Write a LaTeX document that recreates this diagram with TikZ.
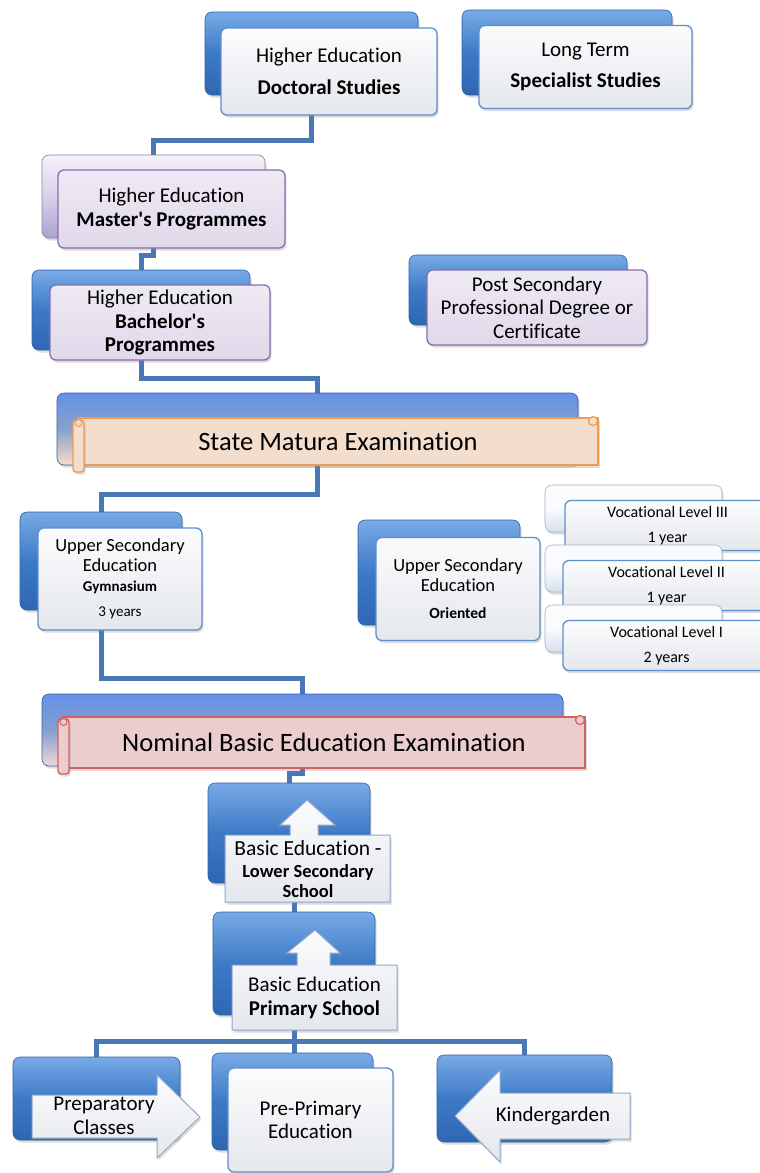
\documentclass[tikz,border=0pt]{standalone}
\usepackage{fontspec}
\setmainfont{Carlito}[Ligatures={NoCommon,TeXOff}]
\usetikzlibrary{shadows,backgrounds,calc}
\definecolor{conncol}{HTML}{4A78B4}
\definecolor{bktop}{HTML}{78AAE6}
\definecolor{bkmid}{HTML}{3D7AC6}
\definecolor{bkbot}{HTML}{2E66B2}
\definecolor{bkedge}{HTML}{2F62A6}
\definecolor{frtop}{HTML}{FBFCFD}
\definecolor{frbot}{HTML}{E4E7EC}
\definecolor{fredge}{HTML}{5F8FCB}
\definecolor{putop}{HTML}{EEEAF3}
\definecolor{pubot}{HTML}{E0D9EA}
\definecolor{puedge}{HTML}{8A6CB0}
\definecolor{lavtop}{HTML}{F5F2F9}
\definecolor{lavbot}{HTML}{A9A2D2}
\definecolor{vtop}{HTML}{FAFBFD}
\definecolor{vbot}{HTML}{D5E0EE}
\definecolor{orfill}{HTML}{F3DDCD}
\definecolor{oredge}{HTML}{F39A4F}
\definecolor{rdfill}{HTML}{EBCDCD}
\definecolor{rdedge}{HTML}{CF6262}
\definecolor{peach}{HTML}{F6DDCB}
\definecolor{pinkb}{HTML}{F1D6D6}
\definecolor{aredge}{HTML}{8FA8CC}
\tikzset{
  shad/.style={drop shadow={opacity=0.28,shadow xshift=1.5pt,shadow yshift=-2.5pt}},
  backbox/.style={rounded corners=7pt, draw=bkedge, line width=0.6pt,
    top color=bktop, bottom color=bkbot, middle color=bkmid, inner sep=0pt, shad},
  lavback/.style={backbox, draw=lavbot!80!black, top color=lavtop, bottom color=lavbot, middle color=lavtop!60!lavbot},
  vback/.style={backbox, draw=vbot!80!black, top color=vtop, bottom color=vbot, middle color=vtop},
  orback/.style={backbox, top color=bktop!85!blue, bottom color=peach, middle color=bkmid!60!peach},
  rdback/.style={backbox, top color=bktop!85!blue, bottom color=pinkb, middle color=bkmid!60!pinkb},
  frontbox/.style={rounded corners=6pt, draw=fredge, line width=1.3pt,
    top color=frtop, bottom color=frbot, inner sep=2pt, align=center, shad},
  pufront/.style={frontbox, draw=puedge, top color=putop, bottom color=pubot},
  scroll/.style={draw=#1, line width=1.4pt, inner sep=0pt, shad},
  arrowshape/.style={draw=aredge, line width=1pt, top color=frtop, bottom color=frbot, shad},
  lbl/.style={align=center, inner sep=0pt},
  conn/.style={draw=conncol, line width=5pt},
  big/.style={font=\fontsize{21}{23.5}\selectfont},
  mid/.style={font=\fontsize{18.5}{20}\selectfont},
}
\begin{document}
\begin{tikzpicture}[x=1pt,y=-1pt]
\useasboundingbox (0,0) rectangle (760,1173);

% ---- Doctoral / Long term
\node[backbox, minimum width=213pt, minimum height=83pt] (docb) at (311.5,53.5) {};
\node[frontbox, big, minimum width=216pt, minimum height=87pt] (doc) at (329,71.5)
  {Higher Education\\[8pt]\textbf{Doctoral Studies}};
\node[backbox, minimum width=210pt, minimum height=85pt] (ltb) at (567,52.5) {};
\node[frontbox, big, minimum width=213pt, minimum height=83pt] (lt) at (585.5,67)
  {Long Term\\[8pt]\textbf{Specialist Studies}};

% ---- Master's
\node[lavback, minimum width=223pt, minimum height=83pt] (masb) at (153.5,196.5) {};
\node[pufront, big, minimum width=227pt, minimum height=78pt] (mas) at (171.5,209)
  {Higher Education\\\textbf{Master's Programmes}};

% ---- Bachelor's
\node[backbox, minimum width=218pt, minimum height=80pt] (bacb) at (141,310) {};
\node[pufront, big, minimum width=220pt, minimum height=75pt] (bac) at (160,322.5)
  {Higher Education\\\textbf{Bachelor's}\\\textbf{Programmes}};

% ---- Post secondary
\node[backbox, minimum width=218pt, minimum height=70pt] (posb) at (518,290) {};
\node[pufront, big, minimum width=220pt, minimum height=75pt] (pos) at (537,307.5)
  {Post Secondary\\Professional Degree or\\Certificate};

% ---- State Matura
\node[orback, minimum width=521pt, minimum height=72pt] (smb) at (317.5,429) {};
\node[scroll=oredge, fill=orfill, minimum width=520pt, minimum height=47pt,
  font=\fontsize{26.5}{30}\selectfont] (sm) at (338,441.5) {State Matura Examination};
\draw[scroll=oredge, fill=orfill, rounded corners=3pt] (73,420) rectangle (84,472);
\draw[draw=oredge, line width=1pt, fill=orfill] (78.5,423) circle (3.5);
\draw[draw=oredge, line width=1.2pt, fill=orfill] (593,421) circle (4.5);

% ---- Upper secondary gymnasium
\node[backbox, minimum width=162pt, minimum height=98pt] (gymb) at (101,561) {};
\node[frontbox, mid, minimum width=164pt, minimum height=102pt] (gym) at (120,579)
  {Upper Secondary\\Education\\{\fontsize{15}{18}\selectfont\textbf{Gymnasium}}\\[5pt]%
   {\fontsize{15}{18}\selectfont 3 years}};

% ---- Upper secondary oriented
\node[backbox, minimum width=162pt, minimum height=105pt] (orb) at (439,572.5) {};
\node[frontbox, mid, minimum width=164pt, minimum height=103pt] (ori) at (458,589)
  {Upper Secondary\\Education\\[7pt]{\fontsize{15.5}{18}\selectfont\textbf{Oriented}}};

% ---- Vocational levels
\node[vback, minimum width=177pt, minimum height=47pt] (v3b) at (633.5,508.5) {};
\node[frontbox, minimum width=205pt, minimum height=50pt, font=\fontsize{16}{19}\selectfont] (v3) at (667.5,525.5)
  {Vocational Level III\\[6pt]1 year};
\node[vback, minimum width=177pt, minimum height=47pt] (v2b) at (633.5,568.5) {};
\node[frontbox, minimum width=207pt, minimum height=50pt, font=\fontsize{16}{19}\selectfont] (v2) at (666.5,585.5)
  {Vocational Level II\\[6pt]1 year};
\node[vback, minimum width=177pt, minimum height=47pt] (v1b) at (633.5,628.5) {};
\node[frontbox, minimum width=207pt, minimum height=50pt, font=\fontsize{16}{19}\selectfont] (v1) at (666.5,645.5)
  {Vocational Level I\\[6pt]2 years};

% ---- Nominal basic education examination
\node[rdback, minimum width=521pt, minimum height=72pt] (nomb) at (302.5,730) {};
\node[scroll=rdedge, fill=rdfill, minimum width=522pt, minimum height=51pt,
  font=\fontsize{26.5}{30}\selectfont] (nom) at (324,742.5) {Nominal Basic Education Examination};
\draw[scroll=rdedge, fill=rdfill, rounded corners=3pt] (58,719) rectangle (69,774);
\draw[draw=rdedge, line width=1pt, fill=rdfill] (63.5,722) circle (3.5);
\draw[draw=rdedge, line width=1.2pt, fill=rdfill] (580,720) circle (4.5);

% ---- Lower secondary
\node[backbox, minimum width=162pt, minimum height=100pt] (lowb) at (289,833) {};
\draw[arrowshape] (225,835) -- (290,835) -- (290,825) -- (280,825) -- (307,800) -- (335,825)
  -- (318,825) -- (318,835) -- (390,835) -- (390,902) -- (225,902) -- cycle;
\node[lbl, font=\fontsize{21.5}{22}\selectfont] (low) at (308,869)
  {Basic Education -\\{\fontsize{18.5}{20}\selectfont\textbf{Lower Secondary}}\\[-2pt]%
   {\fontsize{18.5}{20}\selectfont\textbf{School}}};

% ---- Primary
\node[backbox, minimum width=162pt, minimum height=103pt] (primb) at (294,963.5) {};
\draw[arrowshape] (232,965) -- (297,965) -- (297,953) -- (287,953) -- (315,930) -- (340,953)
  -- (330,953) -- (330,965) -- (397,965) -- (397,1030) -- (232,1030) -- cycle;
\node[lbl, big] (prim) at (314.5,998) {Basic Education\\\textbf{Primary School}};

% ---- Bottom row
\node[backbox, minimum width=167pt, minimum height=83pt] (prepb) at (96.5,1098.5) {};
\draw[arrowshape] (32,1095) -- (157,1095) -- (157,1075) -- (200,1117) -- (157,1158)
  -- (157,1138) -- (32,1138) -- cycle;
\node[lbl, big] (prep) at (104,1116) {Preparatory\\Classes};

\node[backbox, minimum width=161pt, minimum height=97pt] (ppb) at (292.5,1101.5) {};
\node[frontbox, big, minimum width=165pt, minimum height=104pt] (pp) at (310.5,1120)
  {Pre-Primary\\Education};

\node[backbox, minimum width=175pt, minimum height=87pt] (kinb) at (524.5,1098.5) {};
\draw[arrowshape] (630,1093) -- (500,1093) -- (500,1070) -- (455,1116) -- (500,1162)
  -- (500,1139) -- (630,1139) -- cycle;
\node[lbl, big] (kin) at (553,1116) {Kindergarden};

% ---- Connectors
\begin{scope}[on background layer]
\draw[conn] (docb.south) -- ++(0,45) -| (masb.north);
\draw[conn] (masb.south) -- ++(0,17) -| (bacb.north);
\draw[conn] (bacb.south) -- ++(0,28) -| (smb.north);
\draw[conn] (smb.south) -- ++(0,29) -| (gymb.north);
\draw[conn] (gymb.south) -- ++(0,68) -| (nomb.north);
\draw[conn] (nomb.south) -- ++(0,7) -| (lowb.north);
\draw[conn] (primb.north) -- (primb.north |- lowb.south);
\draw[conn] (primb.south) -- (primb.south |- ppb.north);
\draw[conn] (prepb.north) -- ++(0,-15) -| (kinb.north);
\end{scope}
\end{tikzpicture}
\end{document}
